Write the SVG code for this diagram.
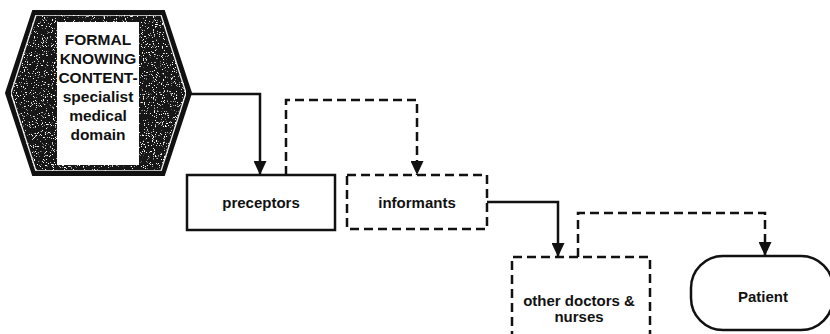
<svg xmlns="http://www.w3.org/2000/svg" width="830" height="334" viewBox="0 0 830 334">
  <style>
    .lbl { font-family: "Liberation Sans", Arial, sans-serif; font-weight: bold; font-size: 15px; fill: #111; text-anchor: middle; }
    .hex { font-size: 15.5px; }
    .box { fill: #fff; stroke: #111; stroke-width: 2.5; }
    .dash { fill: #fff; stroke: #111; stroke-width: 2.5; stroke-dasharray: 9 5; }
    .link { fill: none; stroke: #111; stroke-width: 2.5; }
    .link.dashed { stroke-dasharray: 9 5; }
  </style>
  <defs>
    <!-- arrowhead drawn along +x so orient="auto" follows the path -->
    <marker id="arrow" viewBox="0 0 14 13" refX="14" refY="6.5" markerWidth="14" markerHeight="13" markerUnits="userSpaceOnUse" orient="auto">
      <path d="M0,0 L14,6.5 L0,13 Z" fill="#111"/>
    </marker>
    <!-- sparse light speckle over the dark hexagon fill -->
    <filter id="grain" x="0" y="0" width="1" height="1">
      <feTurbulence type="fractalNoise" baseFrequency="0.9" numOctaves="2" seed="7" result="n"/>
      <feColorMatrix in="n" type="matrix" values="0 0 0 0 1  0 0 0 0 1  0 0 0 0 1  0 0 0 -12 4.3" result="speck"/>
      <feComposite in="speck" in2="SourceGraphic" operator="in" result="s"/>
      <feMerge><feMergeNode in="SourceGraphic"/><feMergeNode in="s"/></feMerge>
    </filter>
  </defs>

  <!-- connectors -->
  <g id="connectors">
    <path class="link" d="M190,94 H260 V175" marker-end="url(#arrow)"/>
    <path class="link dashed" d="M286,175 V100 H417 V175" marker-end="url(#arrow)"/>
    <path class="link" d="M487,202 H558 V257" marker-end="url(#arrow)"/>
    <path class="link dashed" d="M578,257 V213 H765 V256" marker-end="url(#arrow)"/>
  </g>

  <!-- source hexagon -->
  <g id="formal-knowing">
    <polygon points="33,11 164,11 191,93 164,175 33,175 6,93" fill="#111" stroke="#111" stroke-width="2"/>
    <polygon points="36,15 161,15 186,93 161,171 36,171 11,93" fill="#151515" stroke="#eee" stroke-width="1.3" filter="url(#grain)"/>
    <rect x="57" y="22" width="82" height="143" fill="#fff"/>
    <text class="lbl hex" x="98" y="45">FORMAL</text>
    <text class="lbl hex" x="98" y="64">KNOWING</text>
    <text class="lbl hex" x="98" y="83">CONTENT-</text>
    <text class="lbl hex" x="98" y="102">specialist</text>
    <text class="lbl hex" x="98" y="121">medical</text>
    <text class="lbl hex" x="98" y="140">domain</text>
  </g>

  <g id="preceptors">
    <rect class="box" x="187" y="175" width="148" height="55"/>
    <text class="lbl" x="261" y="208">preceptors</text>
  </g>

  <g id="informants">
    <rect class="dash" x="347" y="175" width="140" height="54"/>
    <text class="lbl" x="417" y="208">informants</text>
  </g>

  <g id="other-doctors">
    <path class="dash" d="M512,340 V257 H650 V340"/>
    <text class="lbl" x="579" y="306">other doctors &amp;</text>
    <text class="lbl" x="579" y="322">nurses</text>
  </g>

  <g id="patient">
    <rect class="box" x="691" y="256" width="142" height="74" rx="32" ry="32"/>
    <text class="lbl" x="763" y="302">Patient</text>
  </g>
</svg>
